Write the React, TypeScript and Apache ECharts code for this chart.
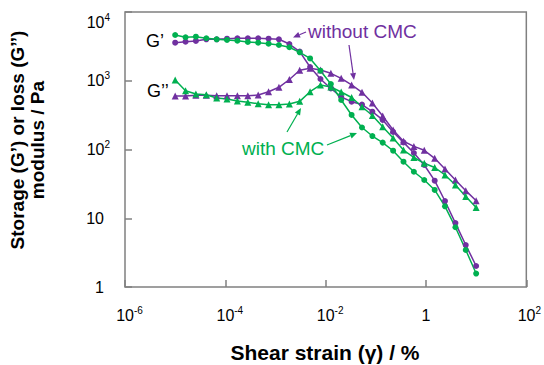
import React, { useEffect, useRef } from 'react';
import * as echarts from 'echarts';

// Shear strain (%) — logarithmic sweep of the amplitude test
const strain = [
  1e-5, 1.61e-5, 2.59e-5, 4.18e-5, 6.72e-5, 1.08e-4, 1.74e-4, 2.81e-4, 4.52e-4, 7.28e-4,
  1.17e-3, 1.89e-3, 3.04e-3, 4.89e-3, 7.88e-3, 1.27e-2, 2.04e-2, 3.29e-2, 5.3e-2, 8.53e-2,
  0.137, 0.221, 0.356, 0.574, 0.924, 1.49, 2.39, 3.86, 6.21, 10,
];

// G' (storage modulus, Pa)
const gPrimeWithCMC = [
  4630, 4290, 4370, 4150, 4010, 3920, 3820, 3660, 3580, 3460,
  3310, 3070, 2590, 2110, 1400, 897, 525, 318, 209, 157,
  126, 96, 66.5, 47.5, 36, 25.8, 14.9, 7.4, 3.45, 1.57,
];
const gPrimeWithoutCMC = [
  3580, 3700, 3790, 4010, 4010, 4090, 4150, 4150, 4150, 4090,
  4010, 3420, 2650, 1585, 1060, 772, 580, 496, 451, 355,
  269, 180, 127, 89, 59.5, 35.2, 17.8, 8.5, 4.08, 2.02,
];
// G'' (loss modulus, Pa)
const gDoubleWithCMC = [
  1025, 717, 642, 627, 561, 543, 508, 486, 464, 448,
  448, 459, 502, 693, 868, 811, 686, 571, 419, 312,
  215, 147, 98, 76.5, 63, 54.7, 42.6, 30.5, 20.7, 14.3,
];
const gDoubleWithoutCMC = [
  600, 600, 614, 614, 606, 606, 606, 606, 620, 693,
  803, 1043, 1419, 1517, 1433, 1283, 1085, 868, 679, 475,
  307, 192, 132, 111, 97.4, 74.5, 52, 36, 25.2, 18,
];

const xTitle = 'Shear strain (γ) / %';
const yTitle = 'Storage (G’) or loss (G’’)\nmodulus / Pa';

const PURPLE = '#7030A0';
const GREEN = '#00B050';
const AXIS = '#808080';
const FONT = '"Liberation Sans", Arial, Helvetica, sans-serif';

function arrow(x1: number, y1: number, x2: number, y2: number, color: string) {
  const ang = Math.atan2(y2 - y1, x2 - x1);
  const L = 7;
  const W = 3;
  const bx = x2 - L * Math.cos(ang);
  const by = y2 - L * Math.sin(ang);
  const px = -Math.sin(ang) * W;
  const py = Math.cos(ang) * W;
  return [
    { type: 'line', silent: true, shape: { x1, y1, x2: bx, y2: by }, style: { stroke: color, lineWidth: 1.2 } },
    { type: 'polygon', silent: true, shape: { points: [[x2, y2], [bx + px, by + py], [bx - px, by - py]] }, style: { fill: color } },
  ];
}

function mkSeries(name: string, values: number[], color: string, symbol: string, size: number) {
  return {
    name,
    type: 'line',
    data: strain.map((x, i) => [x, values[i]]),
    symbol,
    symbolSize: size,
    showSymbol: true,
    lineStyle: { color, width: 1.5 },
    itemStyle: { color },
    emphasis: { disabled: true },
  };
}

export default function App() {
  const ref = useRef<HTMLDivElement>(null);
  useEffect(() => {
    document.body.style.margin = '0';
    if (!ref.current) return;
    const chart = echarts.init(ref.current, null, { renderer: 'svg' });
    const baseRich = {
      b: { fontSize: 16, lineHeight: 20, color: '#000', fontFamily: FONT },
      sup: { fontSize: 10, lineHeight: 8, verticalAlign: 'top', color: '#000', fontFamily: FONT },
      sp1: { width: 6, fontSize: 10 },
      sp2: { width: 9, fontSize: 10 },
    };
    const option: any = {
      animation: false,
      textStyle: { fontFamily: FONT },
      grid: { left: 125, right: 17, top: 12, bottom: 78, show: true, borderColor: AXIS, borderWidth: 1.5, backgroundColor: 'transparent' },
      xAxis: {
        type: 'log',
        logBase: 10,
        min: 1e-6,
        max: 1e2,
        interval: 2,
        axisLine: { show: false },
        axisTick: { show: true, inside: true, length: 7, lineStyle: { color: AXIS, width: 1.5 } },
        splitLine: { show: false },
        minorTick: { show: false },
        axisLabel: {
          margin: 18,
          rich: baseRich,
          formatter: (v: number) => {
            const e = Math.round(Math.log10(v));
            if (e === 0) return '{b|1}';
            const s = String(e);
            return `{${s.length > 1 ? 'sp2' : 'sp1'}| }{b|10}{sup|${s}}`;
          },
        },
      },
      yAxis: {
        type: 'log',
        logBase: 10,
        min: 1,
        max: 1e4,
        interval: 1,
        axisLine: { show: false },
        axisTick: { show: true, inside: true, length: 7, lineStyle: { color: AXIS, width: 1.5 } },
        splitLine: { show: false },
        axisLabel: {
          margin: 15,
          rich: baseRich,
          verticalAlignMaxLabel: 'top',
          formatter: (v: number) => {
            const e = Math.round(Math.log10(v));
            if (e === 0) return '{b|1}{sp1| }';
            if (e === 1) return '{b|10}{sp1| }';
            return `{b|10}{sup|${e}}`;
          },
        },
      },
      series: [
        mkSeries('G′ without CMC', gPrimeWithoutCMC, PURPLE, 'circle', 6),
        mkSeries('G″ without CMC', gDoubleWithoutCMC, PURPLE, 'triangle', 7),
        mkSeries('G′ with CMC', gPrimeWithCMC, GREEN, 'circle', 6),
        mkSeries('G″ with CMC', gDoubleWithCMC, GREEN, 'triangle', 7),
      ],
      graphic: [
        { type: 'text', silent: true, x: 146, y: 41, style: { text: 'G’', fontSize: 18, fontFamily: FONT, fill: '#000', verticalAlign: 'middle', align: 'left' } },
        { type: 'text', silent: true, x: 147, y: 91, style: { text: 'G’’', fontSize: 18, fontFamily: FONT, fill: '#000', verticalAlign: 'middle', align: 'left' } },
        { type: 'text', silent: true, x: 308, y: 31, style: { text: 'without CMC', fontSize: 19, fontFamily: FONT, fill: PURPLE, verticalAlign: 'middle', align: 'left' } },
        { type: 'text', silent: true, x: 242, y: 148, style: { text: 'with CMC', fontSize: 19, fontFamily: FONT, fill: GREEN, verticalAlign: 'middle', align: 'left' } },
        ...arrow(306, 32, 293, 37.5, PURPLE),
        ...arrow(349, 45, 354, 80, PURPLE),
        ...arrow(287, 132, 301, 108, GREEN),
        ...arrow(327, 145, 357, 133, GREEN),
        { type: 'text', silent: true, x: 325, y: 352, style: { text: xTitle, fontSize: 21, fontWeight: 'bold', fontFamily: FONT, fill: '#000', align: 'center', verticalAlign: 'middle' } },
        { type: 'text', silent: true, x: 27, y: 140, rotation: Math.PI / 2, style: { text: yTitle, fontSize: 19, lineHeight: 20, fontWeight: 'bold', fontFamily: FONT, fill: '#000', align: 'center', verticalAlign: 'middle' } },
      ],
    };
    chart.setOption(option);
    return () => chart.dispose();
  }, []);
  return <div ref={ref} style={{ width: 544, height: 365 }} />;
}
